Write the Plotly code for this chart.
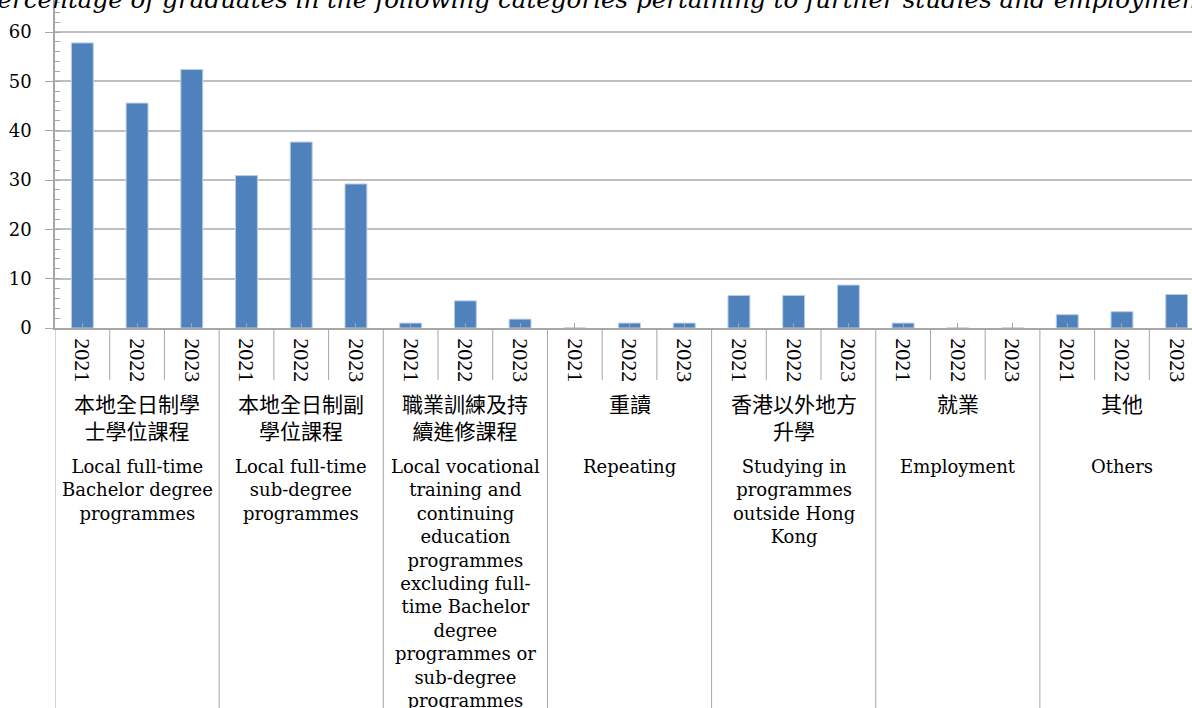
import plotly.graph_objects as go

# ---------------- data ----------------
years = ["2021", "2022", "2023"]
groups_zh = [
    "本地全日制學\n士學位課程",
    "本地全日制副\n學位課程",
    "職業訓練及持\n續進修課程",
    "重讀",
    "香港以外地方\n升學",
    "就業",
    "其他",
]
groups_en = [
    "Local full-time\nBachelor degree\nprogrammes",
    "Local full-time\nsub-degree\nprogrammes",
    "Local vocational\ntraining and\ncontinuing\neducation\nprogrammes\nexcluding full-\ntime Bachelor\ndegree\nprogrammes or\nsub-degree\nprogrammes",
    "Repeating",
    "Studying in\nprogrammes\noutside Hong\nKong",
    "Employment",
    "Others",
]
bachelor = [57.8, 45.6, 52.4]
sub_degree = [30.9, 37.7, 29.2]
vocational = [1.0, 5.5, 1.8]
repeating = [0.0, 1.0, 1.0]
outside_hk = [6.6, 6.6, 8.7]
employment = [1.0, 0.0, 0.0]
others = [2.7, 3.3, 6.8]
series = [bachelor, sub_degree, vocational, repeating, outside_hk, employment, others]
title_text = "Percentage of graduates in the following categories pertaining to further studies and employment"

# ---------------- layout helpers ----------------
W, H = 1192, 708
M_L, M_T, M_B = 55, 0, 380
PLOT_H = H - M_T - M_B
GRAY = "#A6A6A6"


def py(pixel_y):
    """convert a page pixel row into paper y"""
    return (H - M_B - pixel_y) / PLOT_H


n_years = len(years)
x_vals = []
y_vals = []
tick_text = []
for gi, vals in enumerate(series):
    for yi, v in enumerate(vals):
        x_vals.append(gi * n_years + yi)
        y_vals.append(v)
        tick_text.append(years[yi])

fig = go.Figure()
fig.add_trace(go.Bar(
    x=x_vals, y=y_vals, width=0.4,
    marker=dict(color="#4F81BD", line=dict(color="#B9CDE5", width=1)),
    hoverinfo="x+y", showlegend=False,
))

shapes = []
n_total = len(x_vals)
for k in range(n_total):
    xb = k - 0.5
    is_group = (k % n_years == 0)
    shapes.append(dict(
        type="line", xref="x", yref="paper",
        x0=xb, x1=xb, y0=0, y1=py(708 if is_group else 380),
        line=dict(color=GRAY, width=1),
    ))

annotations = []
for gi in range(len(groups_zh)):
    xc = gi * n_years + 1
    annotations.append(dict(
        xref="x", yref="paper", x=xc, y=py(386),
        text=groups_zh[gi].replace("\n", "<br>"), showarrow=False,
        xanchor="center", yanchor="top",
        font=dict(family="Noto Sans CJK TC", size=21, color="#000000"),
    ))
    annotations.append(dict(
        xref="x", yref="paper", x=xc, y=py(454),
        text=groups_en[gi].replace("\n", "<br>"), showarrow=False,
        xanchor="center", yanchor="top",
        font=dict(family="DejaVu Serif", size=18, color="#000000"),
    ))

annotations.append(dict(
    xref="paper", yref="paper", x=(W / 2 - 2 - M_L) / (W - M_L), y=py(-1),
    text=title_text, showarrow=False, xanchor="center", yanchor="middle",
    font=dict(family="DejaVu Serif", size=24.6, color="#000000", style="italic"),
))

fig.update_layout(
    width=W, height=H,
    margin=dict(l=M_L, r=0, t=M_T, b=M_B, pad=0),
    paper_bgcolor="white", plot_bgcolor="white",
    shapes=shapes, annotations=annotations,
    bargap=0.6,
)
fig.update_xaxes(
    range=[-0.5, 20.28], tickmode="array", tickvals=x_vals, ticktext=tick_text,
    tickangle=90, ticks="inside", ticklen=5, tickcolor=GRAY, tickwidth=1,
    showline=True, linecolor=GRAY, linewidth=1.5, showgrid=False, zeroline=False,
    tickfont=dict(family="Liberation Serif", size=22, color="#000000"),
    ticklabelstandoff=4,
    automargin=False, fixedrange=True,
)
fig.update_yaxes(
    range=[0, 66.5], tick0=0, dtick=10, ticks="outside", ticklen=8,
    tickcolor=GRAY, tickwidth=1,
    minor=dict(dtick=2, tick0=0, ticks="inside", ticklen=5, tickcolor=GRAY, showgrid=False),
    showline=True, linecolor=GRAY, linewidth=1.5,
    showgrid=True, gridcolor="#BFBFBF", gridwidth=1.5, zeroline=False,
    tickfont=dict(family="DejaVu Serif", size=18, color="#000000"),
    ticklabelstandoff=10,
    automargin=False, fixedrange=True,
)

fig.write_html(
    "out.html",
    config={"displayModeBar": False},
    post_script="document.body.style.margin='0px';document.body.style.overflow='hidden';",
)
